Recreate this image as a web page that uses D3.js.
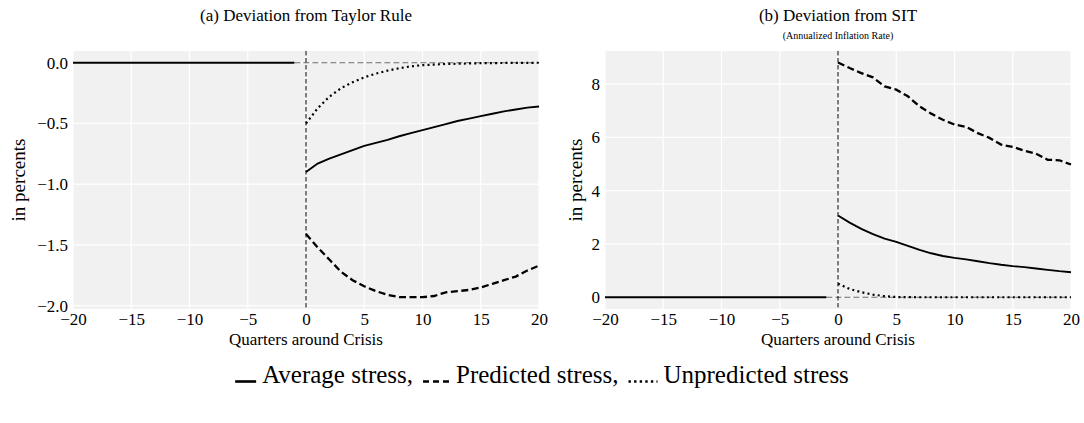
<!DOCTYPE html>
<html>
<head>
<meta charset="utf-8">
<script src="https://cdn.jsdelivr.net/npm/d3@7"></script>
<style>
  body { margin: 0; background: #fff; }
  text { font-family: "Liberation Serif", "Times New Roman", serif; fill: #000; }
</style>
</head>
<body>
<svg id="chart" width="1084" height="423"></svg>
<script>
'use strict'

// quarters around the crisis
const preQuarters = d3.range(-20, 0)
const postQuarters = d3.range(0, 21)
const preValues = [0, 0, 0, 0, 0, 0, 0, 0, 0, 0, 0, 0, 0, 0, 0, 0, 0, 0, 0, 0]

// (a) deviation from Taylor rule
const taylorAverage = [-0.90, -0.83, -0.79, -0.755, -0.72, -0.685, -0.66, -0.635, -0.605, -0.58,
  -0.555, -0.53, -0.505, -0.48, -0.46, -0.44, -0.42, -0.40, -0.385, -0.37, -0.36]
const taylorPredicted = [-1.41, -1.52, -1.62, -1.72, -1.79, -1.84, -1.88, -1.91, -1.93, -1.93,
  -1.93, -1.92, -1.89, -1.88, -1.87, -1.85, -1.82, -1.79, -1.76, -1.71, -1.67]
const taylorUnpredicted = [-0.50, -0.375, -0.28, -0.21, -0.16, -0.12, -0.09, -0.065, -0.045, -0.03,
  -0.02, -0.015, -0.01, -0.008, -0.006, -0.004, -0.003, -0.002, -0.001, -0.001, 0]
const taylorTicks = [0, -0.5, -1.0, -1.5, -2.0]

// (b) deviation from SIT
const sitAverage = [3.07, 2.80, 2.57, 2.37, 2.20, 2.08, 1.93, 1.78, 1.65, 1.55,
  1.48, 1.42, 1.35, 1.28, 1.22, 1.17, 1.13, 1.08, 1.03, 0.98, 0.94]
const sitPredicted = [8.81, 8.60, 8.41, 8.25, 7.91, 7.79, 7.54, 7.16, 6.89, 6.66,
  6.48, 6.39, 6.16, 5.98, 5.73, 5.64, 5.50, 5.39, 5.16, 5.14, 4.98]
const sitUnpredicted = [0.51, 0.31, 0.19, 0.10, 0.04, 0.01, 0.005, 0, 0, 0,
  0, 0, 0, 0, 0, 0, 0, 0, 0, 0, 0]
const sitTicks = [0, 2, 4, 6, 8]

const xTicks = [-20, -15, -10, -5, 0, 5, 10, 15, 20]

const svg = d3.select('#chart')

function drawPanel (cfg) {
  const x = d3.scaleLinear().domain([-20, 20]).range([cfg.left, cfg.right])
  const y = d3.scaleLinear().domain(cfg.yDomain).range([cfg.bottom, cfg.top])
  const g = svg.append('g')

  g.append('rect')
    .attr('x', cfg.left).attr('y', cfg.top)
    .attr('width', cfg.right - cfg.left).attr('height', cfg.bottom - cfg.top)
    .attr('fill', '#f1f1f1')

  // grid
  g.selectAll('line.vgrid').data(xTicks).enter().append('line')
    .attr('x1', d => x(d)).attr('x2', d => x(d))
    .attr('y1', cfg.top).attr('y2', cfg.bottom)
    .attr('stroke', '#fff').attr('stroke-width', 1.2)
  g.selectAll('line.hgrid').data(cfg.ticks).enter().append('line')
    .attr('x1', cfg.left).attr('x2', cfg.right)
    .attr('y1', d => y(d)).attr('y2', d => y(d))
    .attr('stroke', '#fff').attr('stroke-width', 1.2)

  // axes
  const xAxis = g.append('g')
    .attr('transform', `translate(0,${cfg.bottom})`)
    .call(d3.axisBottom(x).tickValues(xTicks).tickSize(0).tickPadding(4).tickFormat(d3.format('d')))
  const yAxis = g.append('g')
    .attr('transform', `translate(${cfg.left},0)`)
    .call(d3.axisLeft(y).tickValues(cfg.ticks).tickSize(0).tickPadding(5).tickFormat(d3.format(cfg.fmt)))
  for (const ax of [xAxis, yAxis]) {
    ax.select('.domain').remove()
    ax.attr('font-family', null)
    ax.selectAll('text').attr('font-size', 17)
  }

  // reference lines
  g.append('line')
    .attr('x1', x(-1)).attr('x2', x(20)).attr('y1', y(0)).attr('y2', y(0))
    .attr('stroke', '#6a6a6a').attr('stroke-width', 1.1).attr('stroke-dasharray', '6,3')
  g.append('line')
    .attr('x1', x(0)).attr('x2', x(0)).attr('y1', cfg.top).attr('y2', cfg.bottom)
    .attr('stroke', '#000').attr('stroke-width', 1).attr('stroke-dasharray', '4.5,2.5')

  const line = d3.line().x(d => x(d[0])).y(d => y(d[1]))
  const series = [
    { values: cfg.unpredicted, dash: '2,3.2', width: 2.2 },
    { values: cfg.predicted, dash: '7,3.5', width: 2.3 },
    { values: cfg.average, dash: null, width: 1.9 }
  ]
  g.selectAll('path.series').data(series).enter().append('path')
    .attr('d', d => line(postQuarters.map((q, i) => [q, d.values[i]])))
    .attr('fill', 'none').attr('stroke', '#000')
    .attr('stroke-width', d => d.width)
    .attr('stroke-dasharray', d => d.dash)
  g.append('path')
    .attr('d', line(preQuarters.map((q, i) => [q, preValues[i]])))
    .attr('fill', 'none').attr('stroke', '#000').attr('stroke-width', 2.2)

  // labels
  const cx = (cfg.left + cfg.right) / 2
  g.append('text').attr('x', cx).attr('y', 21)
    .attr('text-anchor', 'middle').attr('font-size', 17).text(cfg.title)
  if (cfg.subtitle) {
    g.append('text').attr('x', cx).attr('y', 39)
      .attr('text-anchor', 'middle').attr('font-size', 10).text(cfg.subtitle)
  }
  g.append('text').attr('x', cx).attr('y', 345)
    .attr('text-anchor', 'middle').attr('font-size', 17).text('Quarters around Crisis')
  g.append('text')
    .attr('transform', `translate(${cfg.ylabelX},${(cfg.top + cfg.bottom) / 2}) rotate(-90)`)
    .attr('text-anchor', 'middle').attr('font-size', 19).text('in percents')
}

drawPanel({
  left: 73, right: 539, top: 51, bottom: 309,
  yDomain: [-2.027, 0.0965], ticks: taylorTicks, fmt: '.1f',
  average: taylorAverage, predicted: taylorPredicted, unpredicted: taylorUnpredicted,
  title: '(a) Deviation from Taylor Rule', ylabelX: 25
})
drawPanel({
  left: 605, right: 1071, top: 51, bottom: 309,
  yDomain: [-0.44, 9.24], ticks: sitTicks, fmt: 'd',
  average: sitAverage, predicted: sitPredicted, unpredicted: sitUnpredicted,
  title: '(b) Deviation from SIT', subtitle: '(Annualized Inflation Rate)', ylabelX: 582
})

// legend, centred under the figure
const legendItems = [
  { label: 'Average stress,', dash: null, len: 21 },
  { label: 'Predicted stress,', dash: '6,4', len: 27 },
  { label: 'Unpredicted stress', dash: '2.4,3.2', len: 29 }
]
const legend = svg.append('g')
const ly = 383
let lx = 0
legendItems.forEach((d, i) => {
  legend.append('line')
    .attr('x1', lx).attr('x2', lx + d.len).attr('y1', ly - 1.5).attr('y2', ly - 1.5)
    .attr('stroke', '#000').attr('stroke-width', 2.6).attr('stroke-dasharray', d.dash)
  const t = legend.append('text').attr('x', lx + d.len + 6).attr('y', ly)
    .attr('font-size', 25).text(d.label)
  lx += d.len + 6 + t.node().getComputedTextLength() + (i < legendItems.length - 1 ? 10 : 0)
})
legend.attr('transform', `translate(${542 - lx / 2},0)`)
</script>
</body>
</html>
